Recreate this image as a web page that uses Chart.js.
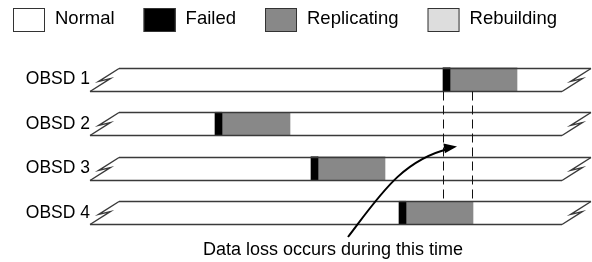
<!DOCTYPE html>
<html>
<head>
<meta charset="utf-8">
<script src="https://cdn.jsdelivr.net/npm/chart.js@4.4.1/dist/chart.umd.min.js"></script>
<style>
    html, body { margin: 0; padding: 0; background: #ffffff; }
    #wrap { position: relative; width: 592px; height: 262px; }
</style>
</head>
<body>
<div id="wrap"><canvas id="chart"></canvas></div>
<script>
// Devices (rows) and states (legend)
var DEVICES = ['OBSD 1', 'OBSD 2', 'OBSD 3', 'OBSD 4'];
var STATES = ['Normal', 'Failed', 'Replicating', 'Rebuilding'];

// Time spans per device, [start, end] in time units
var NORMAL = [[-2, 470], [-2, 470], [-2, 470], [-2, 470]];
var FAILED = [[351, 358], [123, 130], [219, 226], [307, 314]];
var REPLICATING = [[358, 425], [130, 198], [226, 293], [314, 381]];
var REBUILDING = [];

// Window where two devices are down at the same time
var LOSS_WINDOW = [351, 380];
var NOTE = 'Data loss occurs during this time';

var FONT = "'Liberation Sans', Arial, Helvetica, sans-serif";
var COLORS = {
    normal: '#ffffff',
    failed: '#000000',
    replicating: '#888888',
    rebuilding: '#dddddd',
    line: '#3a3a3a'
};
var STATE_COLORS = [COLORS.normal, COLORS.failed, COLORS.replicating, COLORS.rebuilding];
var SLANT = 29;

// Break mark (lightning) joining top and bottom edge
function drawBreak(ctx, xb, top, bottom) {
    var h = bottom - top;
    ctx.beginPath();
    ctx.moveTo(xb + SLANT, top);
    ctx.lineTo(xb + SLANT * 0.3, top + h * 0.56);
    ctx.lineTo(xb + SLANT * 0.7, top + h * 0.44);
    ctx.lineTo(xb, bottom);
    ctx.stroke();
}

var timelinePlugin = {
    id: 'timelines',
    afterDatasetsDraw: function (chart) {
        var ctx = chart.ctx;
        var meta = chart.getDatasetMeta(0);
        var x = chart.scales.x;
        ctx.save();
        ctx.strokeStyle = COLORS.line;
        ctx.lineWidth = 1.4;
        ctx.lineJoin = 'miter';
        var edges = [];
        meta.data.forEach(function (bar) {
            var p = bar.getProps(['x', 'y', 'base', 'height'], true);
            var top = Math.round(p.y - p.height / 2) + 0.5;
            var bottom = Math.round(p.y + p.height / 2) + 0.5;
            edges.push({ top: top, bottom: bottom });
            ctx.beginPath();
            ctx.moveTo(p.base + SLANT, top);
            ctx.lineTo(p.x + SLANT, top);
            ctx.moveTo(p.base, bottom);
            ctx.lineTo(p.x, bottom);
            ctx.stroke();
            drawBreak(ctx, p.base, top, bottom);
            drawBreak(ctx, p.x, top, bottom);
        });

        // dashed window from first device down to last one
        var x1 = Math.round(x.getPixelForValue(LOSS_WINDOW[0])) + 0.5;
        var x2 = Math.round(x.getPixelForValue(LOSS_WINDOW[1])) + 0.5;
        var y1 = edges[0].bottom;
        var y2 = edges[edges.length - 1].top;
        ctx.strokeStyle = '#111111';
        ctx.lineWidth = 1;
        ctx.setLineDash([9, 5]);
        ctx.beginPath();
        ctx.moveTo(x1, y1);
        ctx.lineTo(x1, y2);
        ctx.moveTo(x2, y1);
        ctx.lineTo(x2, y2);
        ctx.stroke();
        ctx.setLineDash([]);

        // note with curved arrow pointing into the window
        var tipX = (x1 + x2) / 2 - 1;
        var tipY = (edges[1].bottom + edges[2].top) / 2;
        var sx = 348, sy = 237;
        ctx.strokeStyle = '#000000';
        ctx.fillStyle = '#000000';
        ctx.lineWidth = 2;
        ctx.beginPath();
        ctx.moveTo(sx, sy);
        ctx.bezierCurveTo(380, 195, 402, 160, tipX - 7, tipY + 2);
        ctx.stroke();
        var ang = Math.atan2(tipY - 152, tipX - 420);
        ctx.beginPath();
        ctx.moveTo(tipX, tipY);
        ctx.lineTo(tipX - 13 * Math.cos(ang) + 5 * Math.sin(ang), tipY - 13 * Math.sin(ang) - 5 * Math.cos(ang));
        ctx.lineTo(tipX - 13 * Math.cos(ang) - 5 * Math.sin(ang), tipY - 13 * Math.sin(ang) + 5 * Math.cos(ang));
        ctx.closePath();
        ctx.fill();

        ctx.font = '18px ' + FONT;
        ctx.textAlign = 'center';
        ctx.textBaseline = 'alphabetic';
        ctx.fillText(NOTE, 333, 255);
        ctx.restore();
    }
};

// Legend drawn as one row of boxes and labels
var legendPlugin = {
    id: 'stateLegend',
    afterDraw: function (chart) {
        var ctx = chart.ctx;
        var cx = 13;
        ctx.save();
        ctx.font = '18.5px ' + FONT;
        ctx.textAlign = 'left';
        ctx.textBaseline = 'middle';
        STATES.forEach(function (name, i) {
            ctx.fillStyle = STATE_COLORS[i];
            ctx.fillRect(cx, 8, 32, 24);
            ctx.strokeStyle = '#333333';
            ctx.lineWidth = 1;
            ctx.strokeRect(cx + 0.5, 8.5, 31, 23);
            ctx.fillStyle = '#000000';
            ctx.fillText(name, cx + 42, 19);
            cx += 42 + ctx.measureText(name).width + 29;
        });
        ctx.restore();
    }
};

function dataset(label, data, color, order) {
    return {
        label: label,
        data: data,
        backgroundColor: color,
        borderWidth: 0,
        barThickness: 23,
        grouped: false,
        order: order
    };
}

new Chart(document.getElementById('chart'), {
    type: 'bar',
    data: {
        labels: DEVICES,
        datasets: [
            dataset(STATES[0], NORMAL, COLORS.normal, 4),
            dataset(STATES[1], FAILED, COLORS.failed, 1),
            dataset(STATES[2], REPLICATING, COLORS.replicating, 2),
            dataset(STATES[3], REBUILDING, COLORS.rebuilding, 3)
        ]
    },
    options: {
        indexAxis: 'y',
        responsive: true,
        maintainAspectRatio: false,
        animation: false,
        events: [],
        layout: { padding: { top: 57, bottom: 27, left: 0, right: 0 } },
        plugins: {
            legend: { display: false },
            tooltip: { enabled: false }
        },
        scales: {
            x: {
                display: false,
                min: 0,
                max: 500
            },
            y: {
                grid: { display: false, drawTicks: false },
                border: { display: false },
                ticks: {
                    color: '#000000',
                    padding: 2,
                    font: { family: FONT, size: 17.5 }
                },
                afterFit: function (scale) { scale.width = 92; }
            }
        }
    },
    plugins: [timelinePlugin, legendPlugin]
});
</script>
</body>
</html>
